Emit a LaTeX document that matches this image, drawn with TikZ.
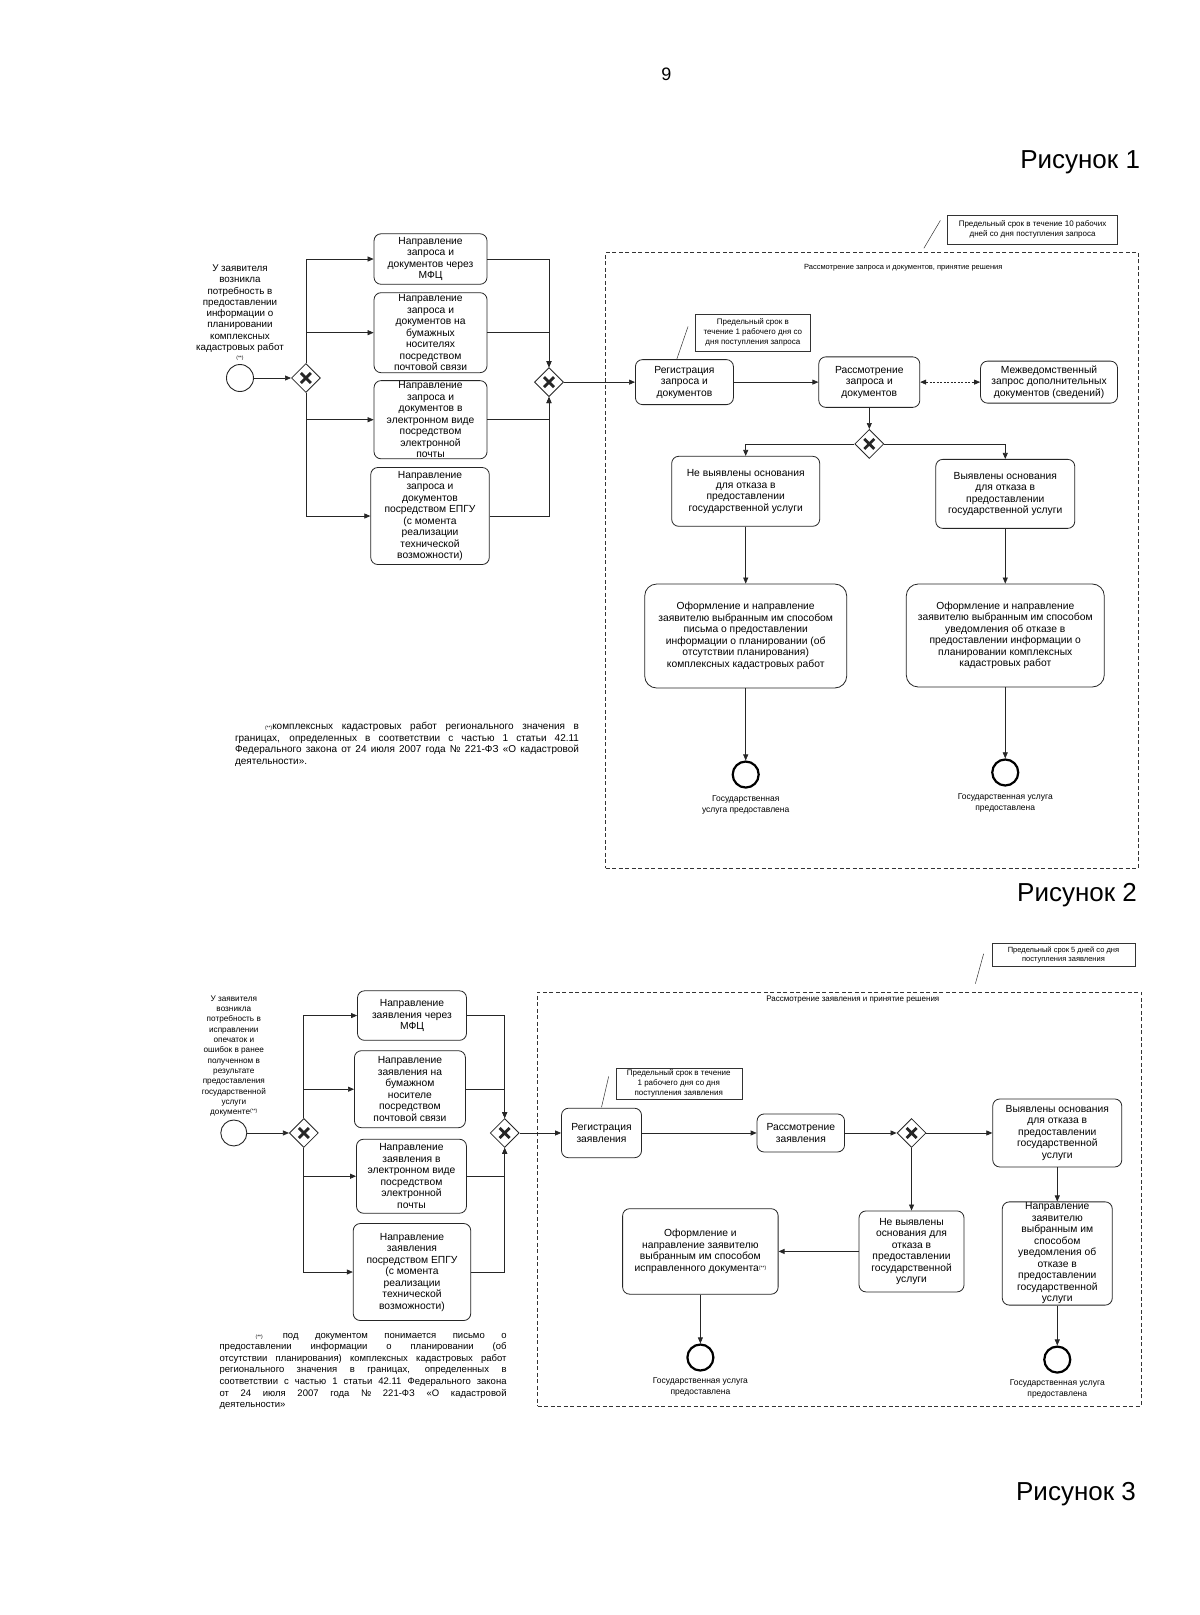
\documentclass[tikz,border=0pt]{standalone}
\usepackage{fontspec}
\setmainfont{Liberation Sans}
\usepackage{tikz}
\usetikzlibrary{positioning,arrows.meta,shapes.geometric}

\newcommand{\setfs}[2]{\fontsize{#1}{#2}\selectfont}
\newcommand{\starmark}{{\fontsize{5}{5}\selectfont(**)}}

\begin{document}
\begin{tikzpicture}[
x=1.03pt, y=-1.03pt,
node distance=3pt,
box/.style={draw=black!85, line width=0.8pt, rounded corners=7pt, align=center, inner sep=1pt, font=\setfs{10.3}{11.5}},
gate/.style={diamond, draw=black!85, line width=0.8pt, fill=white, minimum size=29pt, inner sep=0pt,
  path picture={\draw[line width=2.8pt] ([shift={(-5pt,-5pt)}]path picture bounding box.center) -- ([shift={(5pt,5pt)}]path picture bounding box.center)
    ([shift={(-5pt,5pt)}]path picture bounding box.center) -- ([shift={(5pt,-5pt)}]path picture bounding box.center);}},
startev/.style={circle, draw=black!85, line width=0.9pt, minimum size=27pt, inner sep=0pt},
endev/.style={circle, draw=black, line width=2.2pt, minimum size=26pt, inner sep=0pt},
notebox/.style={draw=black!80, line width=0.5pt, align=center, inner sep=1pt, font=\setfs{8}{10}},
lane/.style={draw=black!80, line width=0.6pt, dash pattern=on 4pt off 2.5pt, inner sep=0pt},
endtext/.style={align=center, inner sep=0pt, font=\setfs{8.5}{10.5}},
foot/.style={anchor=north west, align=justify, inner sep=0pt, font=\setfs{9.5}{11.6}},
figcap/.style={anchor=east, inner sep=0pt, font=\setfs{26}{30}},
arrow/.style={-{Triangle[length=6pt, width=5pt]}, line width=0.7pt, black!85},
twoway/.style={{Triangle[length=6pt, width=5pt]}-{Triangle[length=6pt, width=5pt]}, line width=0.7pt, black!85, dash pattern=on 2pt off 1.5pt},
assoc/.style={line width=0.5pt, black!80}
]
\path[use as bounding box, fill=white] (0,0) rectangle (1165,1568);

\node[font=\setfs{18}{20}] (page) at (647,72) {9};
\node[figcap] (cap1) at (1107,158) {Рисунок 1};

% Рисунок 1
\node[startev] (start1) at (233,367) {};
\node[above=3pt of start1, align=center, inner sep=0pt, font=\setfs{9.8}{11.3}] (need1) {У заявителя\\возникла\\потребность в\\предоставлении\\информации о\\планировании\\комплексных\\кадастровых работ\\[-2pt]\starmark};
\node[gate] (split1) at (297,367) {};
\node[box, minimum width=113pt, minimum height=50.5pt] (mfc1) at (418,251.5) {Направление\\запроса и\\документов через\\МФЦ};
\node[box, minimum width=113pt, minimum height=80pt] (post1) at (418,323) {Направление\\запроса и\\документов на\\бумажных\\носителях\\посредством\\почтовой связи};
\node[box, minimum width=113pt, minimum height=77pt] (mail1) at (418,407.5) {Направление\\запроса и\\документов в\\электронном виде\\посредством\\электронной\\почты};
\node[box, minimum width=118.5pt, minimum height=97pt] (epgu1) at (417.5,501) {Направление\\запроса и\\документов\\посредством ЕПГУ\\(с момента\\реализации\\технической\\возможности)};
\node[gate] (join1) at (533,371) {};

\node[lane, minimum width=532.5pt, minimum height=616pt] (stage1) at (846.5,544) {};
\node[font=\setfs{7.5}{9}, inner sep=0pt] (stage1t) at (877,260) {Рассмотрение запроса и документов, принятие решения};
\node[notebox, minimum width=170pt, minimum height=29pt] (term1) at (1002.5,223) {Предельный срок в течение 10 рабочих\\дней со дня поступления запроса};
\coordinate (t1a) at (913,214);
\coordinate (t1b) at (897,241);

\node[box, minimum width=98pt, minimum height=45pt] (reg1) at (664.5,371) {Регистрация\\запроса и\\документов};
\node[notebox, minimum width=115pt, minimum height=37pt] (term2) at (731,323) {Предельный срок в\\течение 1 рабочего дня со\\дня поступления запроса};
\coordinate (t2a) at (668,317);
\coordinate (t2b) at (657,349);
\node[box, minimum width=101pt, minimum height=50.5pt] (review1) at (844,371) {Рассмотрение\\запроса и\\документов};
\node[box, minimum width=137pt, minimum height=42pt] (mezh1) at (1018.5,371) {Межведомственный\\запрос дополнительных\\документов (сведений)};
\node[gate] (choice1) at (844,431) {};
\node[box, minimum width=148pt, minimum height=70pt] (nofail1) at (724,477) {Не выявлены основания\\для отказа в\\предоставлении\\государственной услуги};
\node[box, minimum width=139pt, minimum height=69pt] (fail1) at (976,479.5) {Выявлены основания\\для отказа в\\предоставлении\\государственной услуги};
\node[box, minimum width=202pt, minimum height=104pt, rounded corners=12pt] (letter1) at (724,617.5) {Оформление и направление\\заявителю выбранным им способом\\письма о предоставлении\\информации о планировании (об\\отсутствии планирования)\\комплексных кадастровых работ};
\node[box, minimum width=198pt, minimum height=103pt, rounded corners=12pt] (refuse1) at (976,617) {Оформление и направление\\заявителю выбранным им способом\\уведомления об отказе в\\предоставлении информации о\\планировании комплексных\\кадастровых работ};
\node[endev] (done1) at (724,752) {};
\node[endtext, below=7pt of done1] (done1t) {Государственная\\услуга предоставлена};
\node[endev] (done2) at (976,750) {};
\node[endtext, below=7pt of done2] (done2t) {Государственная услуга\\предоставлена};

\node[foot, text width=344pt, font=\setfs{10}{11.6}] (foot1) at (228,701) {\hspace*{30pt}\starmark комплексных кадастровых работ регионального значения в\linebreak границах, определенных в соответствии с частью 1 статьи 42.11\linebreak Федерального закона от 24 июля 2007 года № 221-ФЗ «О кадастровой\linebreak деятельности».};

\draw[arrow] (start1) -- (split1);
\foreach \way in {mfc1,post1} {
  \draw[arrow] (split1.north) |- (\way.west);
  \draw[arrow] (\way.east) -| (join1.north);
}
\foreach \way in {mail1,epgu1} {
  \draw[arrow] (split1.south) |- (\way.west);
  \draw[arrow] (\way.east) -| (join1.south);
}
\draw[arrow] (join1) -- (reg1);
\draw[arrow] (reg1) -- (review1);
\draw[twoway] (review1) -- (mezh1);
\draw[arrow] (review1) -- (choice1);
\draw[arrow] (choice1.west) -| (nofail1.north);
\draw[arrow] (choice1.east) -| (fail1.north);
\draw[arrow] (nofail1) -- (letter1);
\draw[arrow] (fail1) -- (refuse1);
\draw[arrow] (letter1) -- (done1);
\draw[arrow] (refuse1) -- (done2);
\draw[assoc] (t1a) -- (t1b);
\draw[assoc] (t2a) -- (t2b);

% Рисунок 2
\node[figcap] (cap2) at (1104,869) {Рисунок 2};
\node[notebox, minimum width=143pt, minimum height=23pt, font=\setfs{7.5}{9}] (term3) at (1032.5,927) {Предельный срок 5 дней со дня\\поступления заявления};
\coordinate (t3a) at (955,926);
\coordinate (t3b) at (947,955);
\node[lane, minimum width=603.5pt, minimum height=414pt] (stage2) at (815,1164) {};
\node[font=\setfs{8}{9}, inner sep=0pt] (stage2t) at (828,970) {Рассмотрение заявления и принятие решения};

\node[startev, minimum size=26pt] (start2) at (227,1100) {};
\node[above=3pt of start2, align=center, inner sep=0pt, font=\setfs{8.2}{10.3}] (need2) {У заявителя\\возникла\\потребность в\\исправлении\\опечаток и\\ошибок в ранее\\полученном в\\результате\\предоставления\\государственной\\услуги\\документе\raisebox{2pt}{\starmark}};
\node[gate] (split2) at (295,1100) {};
\node[box, minimum width=109pt, minimum height=49.5pt] (mfc2) at (400,986) {Направление\\заявления через\\МФЦ};
\node[box, minimum width=111pt, minimum height=77pt] (post2) at (398,1057.5) {Направление\\заявления на\\бумажном\\носителе\\посредством\\почтовой связи};
\node[box, minimum width=110pt, minimum height=74pt] (mail2) at (399.5,1142) {Направление\\заявления в\\электронном виде\\посредством\\электронной\\почты};
\node[box, minimum width=117.5pt, minimum height=97pt] (epgu2) at (400,1235) {Направление\\заявления\\посредством ЕПГУ\\(с момента\\реализации\\технической\\возможности)};
\node[gate] (join2) at (490,1100) {};

\node[box, minimum width=80pt, minimum height=49.5pt] (reg2) at (584,1100) {Регистрация\\заявления};
\node[notebox, minimum width=126pt, minimum height=31pt, font=\setfs{8}{9.8}] (term4) at (659,1052) {Предельный срок в течение\\1 рабочего дня со дня\\поступления заявления};
\coordinate (t4a) at (591,1045);
\coordinate (t4b) at (584,1075);
\node[box, minimum width=87.5pt, minimum height=38pt] (review2) at (777.5,1100) {Рассмотрение\\заявления};
\node[gate] (choice2) at (885,1100) {};
\node[box, minimum width=129pt, minimum height=68pt] (fail2) at (1026.5,1100) {Выявлены основания\\для отказа в\\предоставлении\\государственной\\услуги};
\node[box, minimum width=105pt, minimum height=81pt] (nofail2) at (885,1215) {Не выявлены\\основания для\\отказа в\\предоставлении\\государственной\\услуги};
\node[box, minimum width=155.5pt, minimum height=85.5pt] (fix2) at (680,1215) {Оформление и\\направление заявителю\\выбранным им способом\\исправленного документа\raisebox{2pt}{\starmark}};
\node[box, minimum width=110pt, minimum height=101pt] (notice2) at (1026.5,1217) {Направление\\заявителю\\выбранным им\\способом\\уведомления об\\отказе в\\предоставлении\\государственной\\услуги};
\node[endev] (done3) at (680,1318) {};
\node[endtext, below=6pt of done3] (done3t) {Государственная услуга\\предоставлена};
\node[endev] (done4) at (1026.5,1320) {};
\node[endtext, below=6pt of done4] (done4t) {Государственная услуга\\предоставлена};

\node[foot, text width=287pt] (foot2) at (213,1294) {\hspace*{36pt}\starmark\hspace{20pt}под документом понимается письмо о\linebreak предоставлении информации о планировании (об\linebreak отсутствии планирования) комплексных кадастровых работ\linebreak регионального значения в границах, определенных в\linebreak соответствии с частью 1 статьи 42.11 Федерального закона\linebreak от 24 июля 2007 года № 221-ФЗ «О кадастровой\linebreak деятельности»};

\draw[arrow] (start2) -- (split2);
\foreach \way in {mfc2,post2} {
  \draw[arrow] (split2.north) |- (\way.west);
  \draw[arrow] (\way.east) -| (join2.north);
}
\foreach \way in {mail2,epgu2} {
  \draw[arrow] (split2.south) |- (\way.west);
  \draw[arrow] (\way.east) -| (join2.south);
}
\draw[arrow] (join2) -- (reg2);
\draw[arrow] (reg2) -- (review2);
\draw[arrow] (review2) -- (choice2);
\draw[arrow] (choice2) -- (fail2);
\draw[arrow] (choice2) -- (nofail2);
\draw[arrow] (nofail2) -- (fix2);
\draw[arrow] (fail2) -- (notice2);
\draw[arrow] (fix2) -- (done3);
\draw[arrow] (notice2) -- (done4);
\draw[assoc] (t3a) -- (t3b);
\draw[assoc] (t4a) -- (t4b);

\node[figcap] (cap3) at (1103,1451) {Рисунок 3};
\end{tikzpicture}
\end{document}
